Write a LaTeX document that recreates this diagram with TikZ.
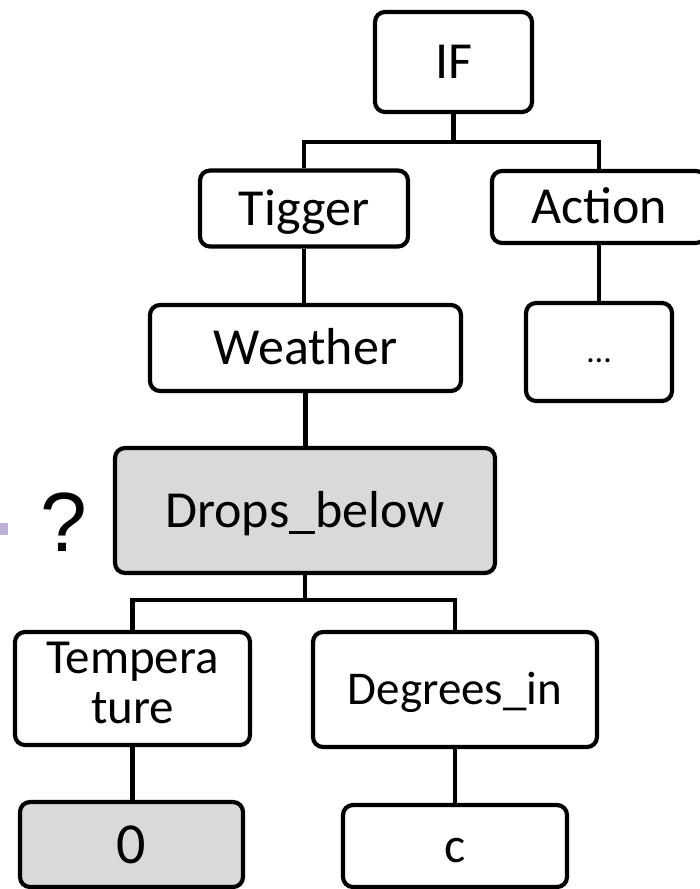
\documentclass[tikz,border=0pt]{standalone}
\usepackage{fontspec}
\setmainfont{Carlito}
\newfontfamily\qfont{Liberation Sans}
\definecolor{boxgray}{HTML}{D9D9D9}
\definecolor{hintpurple}{HTML}{BCB0D6}
\begin{document}
\begin{tikzpicture}[x=1pt,y=-1pt,
  % font size, then text height and depth so that capitals sit centred
  fsz/.style n args={3}{font=\fontsize{#1}{#1}\selectfont, text height=#2, text depth=#3},
  treebox/.style={draw, line width=4.2pt, rounded corners=10pt, fill=white,
    inner sep=0pt, fsz={52}{39pt}{5.5pt}},
  shaded/.style={treebox, fill=boxgray},
  link/.style={line width=4.2pt}]
\useasboundingbox (0,0) rectangle (700,889);

% tree nodes
\node[treebox, minimum width=157pt, minimum height=100pt] (if) at (453.5,62) {IF};
\node[treebox, minimum width=208pt, minimum height=76pt] (trig) at (304,208.5) {Tigger};
\node[treebox, minimum width=214pt, minimum height=72pt] (act) at (599,207) {Action};
\node[treebox, minimum width=146pt, minimum height=98pt,
      fsz={34}{25.5pt}{3.6pt}] (more) at (599,352) {…};
\node[treebox, minimum width=311pt, minimum height=86pt] (wea) at (305.5,348) {Weather};
\node[shaded, minimum width=380pt, minimum height=125pt] (drop) at (305,510.5) {Drops\_below};
\node[treebox, minimum width=235pt, minimum height=113pt, align=center,
      font=\fontsize{49}{50}\selectfont, text height=74.2pt, text depth=5.2pt] (temp) at (132.5,688.5) {Tempera\\ture};
\node[treebox, minimum width=284pt, minimum height=115pt,
      fsz={47}{35pt}{4.7pt}] (deg) at (455,689.5) {Degrees\_in};
\node[shaded, minimum width=223pt, minimum height=85pt,
      fsz={58}{43.5pt}{6.1pt}] (zero) at (131.5,844.5) {0};
\node[treebox, minimum width=224pt, minimum height=82pt,
      fsz={50}{37.5pt}{5.3pt}] (unit) at (455,846) {c};

% question mark and the edge of the pointer on the left
\node[anchor=base, inner sep=0pt, font=\qfont\fontsize{84}{84}\selectfont] (ask) at (64,551) {?};
\fill[hintpurple] (0,523) rectangle (8,535);

% bus junctions
\coordinate (bus1) at (453.5,142);
\coordinate (bus2) at (305,600);

% connectors
\draw[link] (if.south) -- (bus1);
\draw[link] (trig.north) |- (bus1) -| (act.north);
\draw[link] (trig.south) -- (trig.south |- wea.north);
\draw[link] (act.south) -- (more.north);
\draw[link] (wea.south) -- (wea.south |- drop.north);
\draw[link] (drop.south) -- (bus2);
\draw[link] (temp.north) |- (bus2) -| (deg.north);
\draw[link] (temp.south) -- (temp.south |- zero.north);
\draw[link] (deg.south) -- (unit.north);
\end{tikzpicture}
\end{document}
